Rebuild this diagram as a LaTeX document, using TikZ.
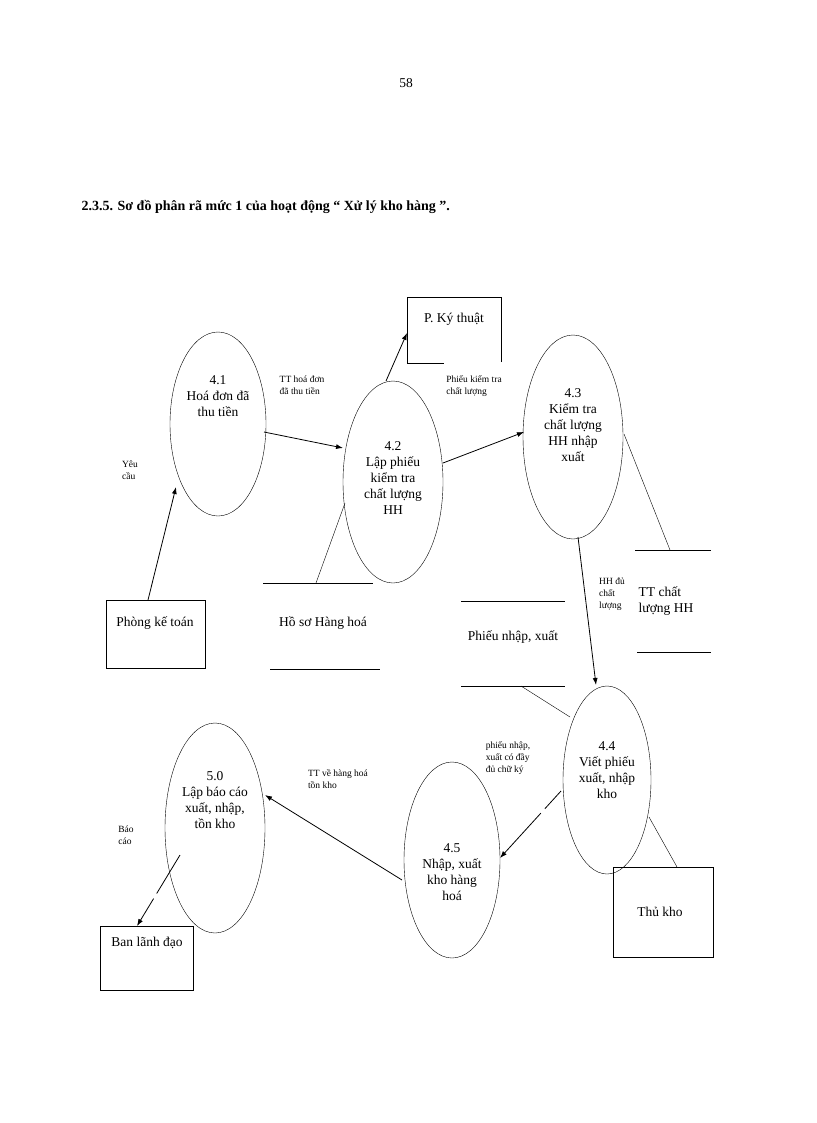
\documentclass[tikz,border=0pt]{standalone}
\usepackage{fontspec}
\setmainfont{Liberation Serif}
\usetikzlibrary{arrows.meta}
\begin{document}
\begin{tikzpicture}[x=1pt,y=-1pt,
  txt/.style={font=\fontsize{13.5}{16}\selectfont,align=center},
  lbl/.style={font=\fontsize{9.5}{12}\selectfont,align=left},
  arr/.style={-{Latex[length=7pt,width=5pt]},thick}]
\useasboundingbox (0,0) rectangle (816,1123);
\node[txt] (pg) at (406,83) {58};
\node[anchor=west,font=\bfseries\fontsize{14}{16}\selectfont] (title) at (78,207) {2.3.5. Sơ đồ phân rã mức 1 của hoạt động “ Xử lý kho hàng ”.};
% ellipses
\draw (218,424) ellipse [x radius=48,y radius=92];
\node[txt] (p41) at (218,396) {4.1\\Hoá đơn đã\\thu tiền};
\draw (393,482) ellipse [x radius=50,y radius=101];
\node[txt] (p42) at (393,478) {4.2\\Lập phiếu\\kiểm tra\\chất lượng\\HH};
\draw (573,437) ellipse [x radius=50,y radius=102];
\node[txt] (p43) at (573,425) {4.3\\Kiểm tra\\chất lượng\\HH nhập\\xuất};
\draw (607,780) ellipse [x radius=44,y radius=94];
\node[txt] (p44) at (607,770) {4.4\\Viết phiếu\\xuất, nhập\\kho};
\draw (452,860) ellipse [x radius=48,y radius=98];
\node[txt] (p45) at (452,872) {4.5\\Nhập, xuất\\kho hàng\\hoá};
\draw (215,828) ellipse [x radius=50,y radius=105];
\node[txt] (p50) at (215,800) {5.0\\Lập báo cáo\\xuất, nhập,\\tồn kho};
% entities
\draw (501,362) -- (501,297) -- (407,297) -- (407,363) -- (444,363);
\node[txt] (kt) at (454,319) {P. Ký thuật};
\draw (106,600) rectangle (205,668);
\node[txt] (pkt) at (155,623) {Phòng kế toán};
\draw (613,867) rectangle (713,957);
\node[txt] (tk) at (660,912) {Thủ kho};
\draw (100,926) rectangle (193,990);
\node[txt] (bld) at (147,943) {Ban lãnh đạo};
% stores
\draw (263,583) -- (373,583); \draw (270,669) -- (380,669);
\node[txt] (hs) at (323,623) {Hồ sơ Hàng hoá};
\draw (635,550) -- (711,550); \draw (637,652) -- (711,652);
\node[txt,align=left] (ttcl) at (666,601) {TT chất\\lượng HH};
\draw (461,601) -- (565,601); \draw (461,686) -- (565,686);
\node[txt] (pnx) at (513,637) {Phiếu nhập, xuất};
% connectors
\coordinate (c1) at (316,583); \coordinate (c2) at (345,503);
\draw (c1) -- (c2);
\coordinate (c3) at (624,434); \coordinate (c4) at (670,550);
\draw (c3) -- (c4);
\coordinate (c5) at (521,686); \coordinate (c6) at (570,717);
\draw (c5) -- (c6);
\coordinate (c7) at (649,817); \coordinate (c8) at (677,867);
\draw (c7) -- (c8);
\draw[arr] (148,600) -- (176,487);
\node[lbl] (l1) at (130,470) {Yêu\\cầu};
\draw[arr] (264,432) -- (343,448);
\node[lbl] (l2) at (302,385) {TT hoá đơn\\đã thu tiền};
\draw[arr] (386,381) -- (407,333);
\draw[arr] (443,463) -- (524,432);
\node[lbl] (l3) at (474,386) {Phiếu kiểm tra\\chất lượng};
\draw[arr] (578,537) -- (596,685);
\node[lbl] (l4) at (612,594) {HH đủ\\chất\\lượng};
\draw[arr,dash pattern=on 24pt off 6pt on 60pt off 0pt] (561,791) -- (500,858);
\node[lbl] (l5) at (508,758) {phiếu nhập,\\xuất có đầy\\đủ chữ ký};
\draw[arr] (402,880) -- (265,795);
\node[lbl] (l6) at (338,779) {TT về hàng hoá\\tồn kho};
\draw[arr,dash pattern=on 45pt off 6pt on 60pt off 0pt] (180,855) -- (137,926);
\node[lbl] (l7) at (126,835) {Báo\\cáo};
\end{tikzpicture}
\end{document}
